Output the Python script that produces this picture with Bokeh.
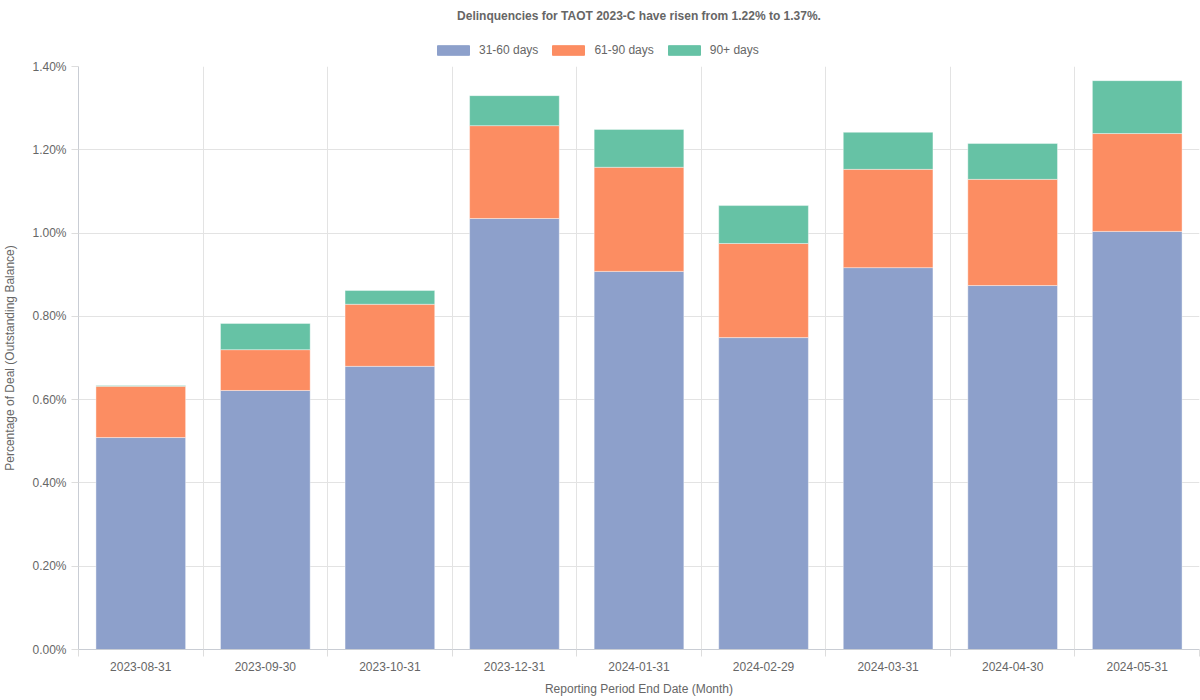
from bokeh.plotting import figure
from bokeh.models import (FixedTicker, PrintfTickFormatter, Range1d, Legend, LegendItem,
                          ColumnDataSource, Title)
from bokeh.layouts import column
from bokeh.embed import file_html
from bokeh.resources import INLINE

dates = ["2023-08-31", "2023-09-30", "2023-10-31", "2023-12-31", "2024-01-31",
         "2024-02-29", "2024-03-31", "2024-04-30", "2024-05-31"]
d31_60 = [0.509, 0.622, 0.680, 1.035, 0.908, 0.749, 0.917, 0.874, 1.004]
d61_90 = [0.123, 0.098, 0.149, 0.223, 0.250, 0.226, 0.236, 0.255, 0.235]
d90p = [0.002, 0.063, 0.033, 0.072, 0.091, 0.091, 0.089, 0.086, 0.127]
series = ["31-60 days", "61-90 days", "90+ days"]
colors = ["#8da0cb", "#fc8d62", "#66c2a5"]
y_ticks = [0.0, 0.2, 0.4, 0.6, 0.8, 1.0, 1.2, 1.4]
title_text = "Delinquencies for TAOT 2023-C have risen from 1.22% to 1.37%."

FONT = "Liberation Sans"
GRAY = "#666666"

# ---------------- header: title + legend ----------------
hdr = figure(width=1200, height=58, output_backend="svg", toolbar_location=None,
             x_range=Range1d(0, 1), y_range=Range1d(0, 1),
             x_axis_location=None, y_axis_location=None,
             min_border_left=0, min_border_right=0, min_border_top=0, min_border_bottom=0,
             outline_line_color=None, border_fill_color="white", background_fill_color="white")
hdr.grid.visible = False
hdr.title = Title(text=title_text, align="center", text_font=FONT, text_font_size="12px",
                  text_font_style="bold", text_color=GRAY, standoff=2, padding=5,
                  offset=-38)
# legend swatches only (NaN rows are never drawn in the header)
nan = float("nan")
swatches = [hdr.vbar(x=[nan], top=[nan], width=1, color=c) for c in colors]
legend = Legend(items=[LegendItem(label=s, renderers=[r]) for s, r in zip(series, swatches)],
                orientation="horizontal", location=(355, 1),
                label_text_font=FONT, label_text_font_size="12px", label_text_color=GRAY,
                glyph_width=40, glyph_height=12, spacing=10, label_standoff=6,
                border_line_color=None, background_fill_alpha=0,
                padding=2, margin=0)
hdr.add_layout(legend, "center")

# ---------------- main chart ----------------
xpos = [i + 0.5 for i in range(len(dates))]
src = ColumnDataSource(dict(x=xpos, a=d31_60, b=d61_90, c=d90p))

p = figure(frame_width=1121, frame_height=583, output_backend="svg", toolbar_location=None,
           x_range=Range1d(0, len(dates)), y_range=Range1d(0, 1.4),
           min_border_left=78, min_border_right=1, min_border_bottom=51,
           min_border_top=8,
           background_fill_color="white", border_fill_color="white",
           outline_line_color=None)

p.vbar_stack(["a", "b", "c"], x="x", width=0.72, source=src, color=colors,
             line_color="white", line_alpha=0.4, line_width=1)

p.xaxis.ticker = FixedTicker(ticks=xpos, minor_ticks=list(range(len(dates) + 1)))
p.xaxis.major_label_overrides = {x: d for x, d in zip(xpos, dates)}
p.xaxis.major_tick_line_color = None
p.xaxis.minor_tick_in = 0
p.xaxis.minor_tick_out = 7
p.xaxis.minor_tick_line_color = "#dddddd"
p.xaxis.axis_label = "Reporting Period End Date (Month)"

p.yaxis.ticker = FixedTicker(ticks=y_ticks)
p.yaxis.formatter = PrintfTickFormatter(format="%.2f%%")
p.yaxis.minor_tick_line_color = None
p.yaxis.major_tick_in = 0
p.yaxis.major_tick_out = 7
p.yaxis.major_tick_line_color = "#dddddd"
p.yaxis.axis_label = "Percentage of Deal (Outstanding Balance)"

for ax in (p.xaxis, p.yaxis):
    ax.axis_line_color = "#c9cdd4"
    ax.major_label_text_font = FONT
    ax.major_label_text_font_size = "12px"
    ax.major_label_text_color = GRAY
    ax.axis_label_text_font = FONT
    ax.axis_label_text_font_size = "12px"
    ax.axis_label_text_color = GRAY
    ax.axis_label_text_font_style = "normal"
    ax.major_label_standoff = 5
p.xaxis.axis_label_standoff = 8
p.yaxis.axis_label_standoff = 12

p.xgrid.ticker = FixedTicker(ticks=list(range(len(dates) + 1)))
p.xgrid.grid_line_color = "#e3e3e3"
p.ygrid.grid_line_color = "#e3e3e3"

layout = column(hdr, p, spacing=0)
open("out.html", "w").write(file_html(layout, INLINE))
